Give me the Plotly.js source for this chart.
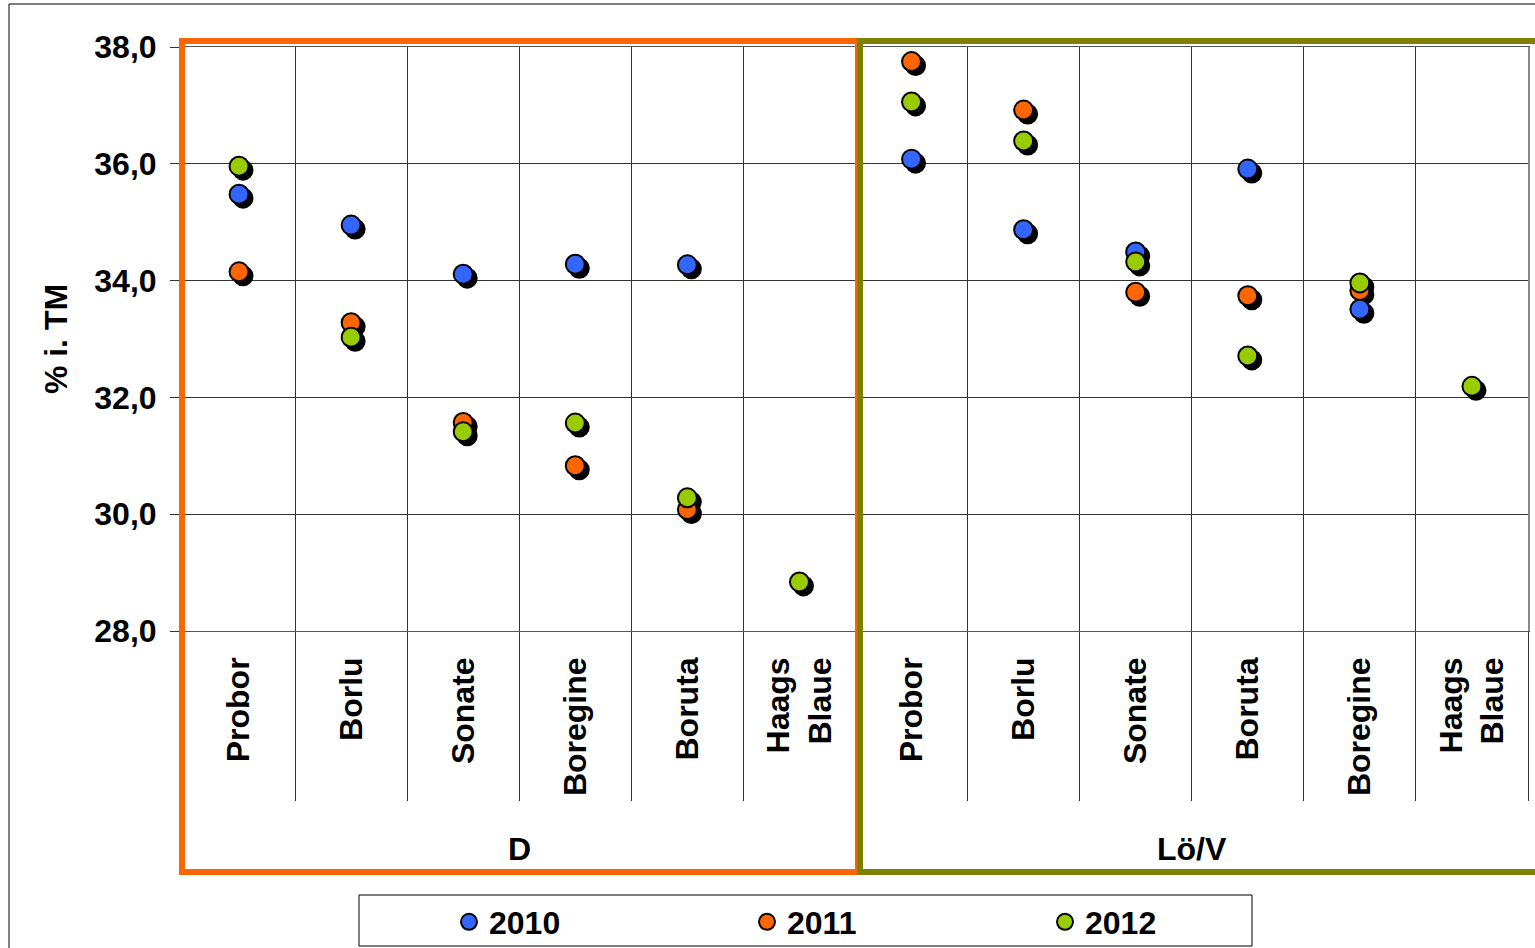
<!DOCTYPE html>
<html><head><meta charset="utf-8">
<script src="https://cdn.plot.ly/plotly-3.0.1.min.js"></script>
<style>html,body{margin:0;padding:0;background:#fff}</style></head>
<body>
<div id="chart" style="width:1535px;height:948px"></div>
<script>
// ---- data ----
const groups = ['D', 'Lö/V'];
const categories = ['Probor','Borlu','Sonate','Boregine','Boruta','Haags<br>Blaue',
                    'Probor','Borlu','Sonate','Boruta','Boregine','Haags<br>Blaue'];
const categoryGroup = ['D','D','D','D','D','D','Lö/V','Lö/V','Lö/V','Lö/V','Lö/V','Lö/V'];
const years = ['2010', '2011', '2012'];
const v2010 = [35.48, 34.95, 34.11, 34.28, 34.27, null, 36.08, 34.87, 34.49, 35.91, 33.51, null];
const v2011 = [34.15, 33.28, 31.57, 30.83, 30.08, null, 37.75, 36.92, 33.80, 33.74, 33.83, null];
const v2012 = [35.96, 33.03, 31.41, 31.56, 30.28, 28.84, 37.06, 36.39, 34.32, 32.71, 33.96, 32.19];
const yTicks = [28, 30, 32, 34, 36, 38];

// ---- styling ----
const colors = ['#3366FF', '#FF6600', '#99CC00'];
const series = [v2010, v2011, v2012];
const FONT = 'Liberation Sans, Arial, sans-serif';
const W = 1535, H = 948;
const L = 183, R = 1528, T = 47, B = 631;
const px = x => (x - L) / (R - L);
const py = y => (B - y) / (B - T);

const idx = categories.map((c, i) => i);
const xr = [-0.5, categories.length - 0.5];
const yr = [yTicks[0], yTicks[yTicks.length - 1]];
const shOff = 4; // shadow offset px
const dxu = shOff * (xr[1] - xr[0]) / (R - L);
const dyu = shOff * (yr[1] - yr[0]) / (B - T);

const traces = [];
// shadows (base axes, shifted range)
series.forEach((vals, k) => {
  traces.push({
    x: idx, y: vals, type: 'scatter', mode: 'markers', xaxis: 'x', yaxis: 'y',
    showlegend: false, hoverinfo: 'skip',
    marker: {size: 19, color: '#000', line: {color: '#000', width: 2}}
  });
});
// carrier for the category-label axis (no visible marks)
traces.push({
  x: idx, y: idx.map(() => null), type: 'scatter', mode: 'markers', xaxis: 'x3', yaxis: 'y',
  showlegend: false, hoverinfo: 'skip', marker: {size: 1, color: 'rgba(0,0,0,0)'}
});
// real markers
series.forEach((vals, k) => {
  traces.push({
    x: idx, y: vals, type: 'scatter', mode: 'markers', xaxis: 'x2', yaxis: 'y2',
    name: years[k],
    marker: {size: 19, color: colors[k], line: {color: '#000', width: 2}}
  });
});

const boundaries = [];
for (let i = 0; i <= categories.length; i++) boundaries.push(i - 0.5);

const groupAnn = groups.map(g => {
  const members = idx.filter(i => categoryGroup[i] === g);
  const mid = (members[0] + members[members.length - 1]) / 2;
  return {
    x: mid, xref: 'x2', y: py(849), yref: 'paper', text: g, showarrow: false,
    xanchor: 'center', yanchor: 'middle',
    font: {family: FONT, size: 32, color: '#000', weight: 'bold'}
  };
});

const layout = {
  width: W, height: H,
  margin: {l: L, r: W - R, t: T, b: H - B, pad: 0, autoexpand: false},
  paper_bgcolor: '#fff', plot_bgcolor: '#fff',
  separators: ', ',
  showlegend: true,
  legend: {
    orientation: 'h', x: px(449), xanchor: 'left', y: py(922), yanchor: 'middle',
    entrywidth: 253, bgcolor: 'rgba(0,0,0,0)', borderwidth: 0, traceorder: 'normal',
    font: {family: FONT, size: 32, color: '#000', weight: 'bold'}
  },
  xaxis: {visible: false, range: [xr[0] - dxu, xr[1] - dxu], fixedrange: true},
  yaxis: {visible: false, range: [yr[0] + dyu, yr[1] + dyu], fixedrange: true},
  xaxis2: {
    overlaying: 'x', anchor: 'y2', range: xr, tickmode: 'array', tickvals: boundaries,
    showticklabels: false, ticks: 'outside', ticklen: 169, tickcolor: '#333', tickwidth: 1,
    showgrid: true, gridcolor: '#333', gridwidth: 1,
    showline: true, linecolor: '#555', linewidth: 1, mirror: true, zeroline: false
  },
  yaxis2: {
    overlaying: 'y', anchor: 'x2', range: yr, tickmode: 'array', tickvals: yTicks,
    tickformat: '.1f', ticks: 'outside', ticklen: 11, tickcolor: '#333',
    ticklabelstandoff: 7,
    tickfont: {family: FONT, size: 32, color: '#000', weight: 'bold'},
    showgrid: true, gridcolor: '#333', gridwidth: 1,
    showline: true, linecolor: '#888', linewidth: 2, mirror: true, zeroline: false,
    title: {text: '% i. TM', standoff: 17, font: {family: FONT, size: 32, color: '#000', weight: 'bold'}}
  },
  xaxis3: {
    overlaying: 'x', anchor: 'y', range: xr, tickmode: 'array', tickvals: idx, ticktext: categories,
    tickangle: -90, ticks: '', ticklabelstandoff: 19, showgrid: false, showline: false, zeroline: false,
    tickfont: {family: FONT, size: 32, color: '#000', weight: 'bold'}
  },
  annotations: groupAnn,
  shapes: [
    {type: 'rect', xref: 'paper', yref: 'paper', x0: px(9), x1: px(1560), y0: py(4), y1: py(980),
     line: {color: '#000', width: 1}, fillcolor: 'rgba(0,0,0,0)', layer: 'below'},
    {type: 'rect', xref: 'paper', yref: 'paper', x0: px(182), x1: px(858), y0: py(41), y1: py(872),
     line: {color: '#FF6600', width: 6}, fillcolor: 'rgba(0,0,0,0)'},
    {type: 'rect', xref: 'paper', yref: 'paper', x0: px(860), x1: px(1560), y0: py(41), y1: py(872),
     line: {color: '#808000', width: 6}, fillcolor: 'rgba(0,0,0,0)'},
    {type: 'rect', xref: 'paper', yref: 'paper', x0: px(359), x1: px(1252), y0: py(895), y1: py(946),
     line: {color: '#000', width: 1}, fillcolor: 'rgba(0,0,0,0)'}
  ]
};

Plotly.newPlot('chart', traces, layout, {displayModeBar: false, staticPlot: true});
</script>
</body></html>
